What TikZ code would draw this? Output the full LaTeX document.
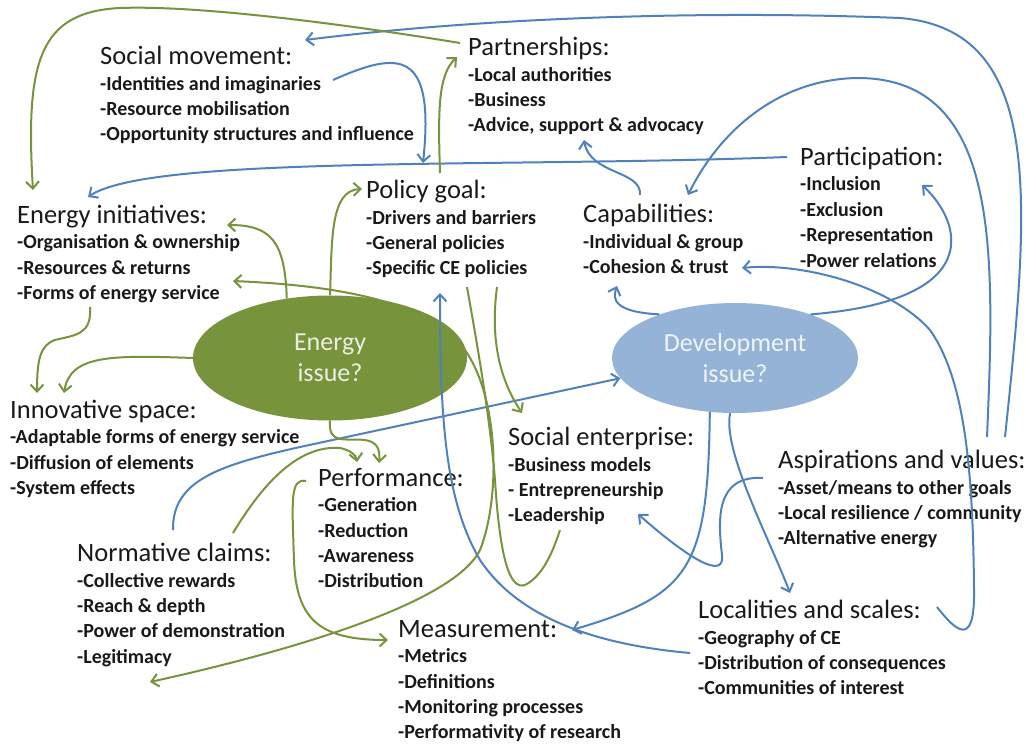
\documentclass[tikz,border=0pt]{standalone}
\usepackage{fontspec}
\setmainfont{Carlito}
\usetikzlibrary{shapes.geometric,arrows.meta,calc}
\definecolor{egreen}{HTML}{77933C}
\definecolor{dblue}{HTML}{95B3D7}
\definecolor{lblue}{HTML}{4F81BD}
\newcommand{\ttl}[1]{{\fontsize{26.5}{25.3}\selectfont\mdseries #1}}

\begin{document}
\begin{tikzpicture}[x=1pt,y=-1pt,
    box/.style={anchor=north west, inner sep=0pt, align=left, text=black!90,
      font=\fontsize{20}{25.4}\selectfont\bfseries},
    issue/.style={ellipse, inner sep=0pt, align=center, font=\fontsize{26}{31}\selectfont},
    gline/.style={draw=egreen, line width=2pt},
    bline/.style={draw=lblue, line width=2pt},
    tip/.style={-{Straight Barb[length=7pt,width=13pt]}},
    tips/.style={{Straight Barb[length=7pt,width=13pt]}-{Straight Barb[length=7pt,width=13pt]}}]
    \useasboundingbox (0,0) rectangle (1035,744);

    % issues
    \node[issue, fill=egreen, text=white!85!egreen, minimum width=274pt, minimum height=125pt] (eiss) at (330,358) {Energy\\issue?};
    \node[issue, fill=dblue, text=white!85!dblue, minimum width=246pt, minimum height=110pt] (diss) at (735,358) {Development\\issue?};

    % themes
    \node[box] (smov) at (100,46) {\ttl{Social movement:}\\-Identities and imaginaries\\-Resource mobilisation\\-Opportunity structures and influence};
    \node[box] (part) at (468,37) {\ttl{Partnerships:}\\-Local authorities\\-Business\\-Advice, support \& advocacy};
    \node[box] (pgoal) at (366,180) {\ttl{Policy goal:}\\-Drivers and barriers\\-General policies\\-Specific CE policies};
    \node[box] (einit) at (17,205) {\ttl{Energy initiatives:}\\-Organisation \& ownership\\-Resources \& returns\\-Forms of energy service};
    \node[box] (capab) at (583,204) {\ttl{Capabilities:}\\-Individual \& group\\-Cohesion \& trust};
    \node[box] (partic) at (800,147) {\ttl{Participation:}\\-Inclusion\\-Exclusion\\-Representation\\-Power relations};
    \node[box] (innov) at (10,400) {\ttl{Innovative space:}\\-Adaptable forms of energy service\\-Diffusion of elements\\-System effects};
    \node[box] (perf) at (318,468) {\ttl{Performance:}\\-Generation\\-Reduction\\-Awareness\\-Distribution};
    \node[box] (senter) at (508,427) {\ttl{Social enterprise:}\\-Business models\\- Entrepreneurship\\-Leadership};
    \node[box] (aspir) at (778,450) {\ttl{Aspirations and values:}\\-Asset/means to other goals\\-Local resilience / community\\-Alternative energy};
    \node[box] (norm) at (77,543) {\ttl{Normative claims:}\\-Collective rewards\\-Reach \& depth\\-Power of demonstration\\-Legitimacy};
    \node[box] (local) at (698,600) {\ttl{Localities and scales:}\\-Geography of CE\\-Distribution of consequences\\-Communities of interest};
    \node[box] (meas) at (398,620) {\ttl{Measurement:}\\-Metrics\\-Definitions\\-Monitoring processes\\-Performativity of research};

    % development links
    \draw[bline, tip] ($(aspir.north west)+(227,-13)$) .. controls (1030,200) and (1045,30) .. (900,18) .. controls (700,10) and (480,18) .. ($(smov.north west)+(205,-6)$);
    \draw[bline, tip] ($(aspir.north west)+(209,-13)$) .. controls (995,250) and (1000,80) .. (860,78) .. controls (780,78) and (720,130) .. ($(capab.north west)+(105,-9)$);
    \draw[bline, tip] ($(partic.north west)+(-13,10)$) .. controls (500,168) and (150,155) .. ($(einit.north west)+(71,-8)$);
    \draw[bline, tip] ($(smov.north west)+(233,34)$) .. controls (400,50) and (435,50) .. ($(pgoal.north west)+(57,-17)$);
    \draw[bline, tip] ($(capab.north west)+(57,-9)$) .. controls (642,170) and (590,175) .. ($(part.north west)+(116,103)$);
    \draw[bline, tip] (diss.150) .. controls (615,312) and (612,300) .. ($(capab.north west)+(34,82)$);
    \draw[bline, tip] (diss.30) .. controls (990,300) and (960,220) .. ($(partic.north west)+(122,38)$);
    \draw[bline, tip] ($(local.north west)+(239,7)$) .. controls (955,630) and (975,650) .. (974,590) .. controls (973,470) and (965,380) .. (930,330) .. controls (890,285) and (800,262) .. ($(capab.north west)+(159,64)$);
    \draw[bline, tip] ($(norm.north west)+(96,-13)$) .. controls (172,480) and (220,465) .. (300,447) -- (diss.190);
    \draw[bline, tip] (diss.245) .. controls (708,570) and (690,595) .. ($(meas.north west)+(174,10)$);
    \draw[bline, tip] (diss.265) .. controls (722,450) and (770,540) .. ($(local.north west)+(92,-7)$);
    \draw[bline, tip] ($(aspir.north west)+(-15,28)$) .. controls (715,475) and (718,520) .. (722,555) .. controls (725,580) and (690,560) .. ($(senter.north west)+(130,87)$);
    \draw[bline, tip] ($(local.north west)+(-8,53)$) .. controls (600,645) and (520,620) .. (480,560) .. controls (445,500) and (440,420) .. ($(pgoal.north west)+(74,113)$);

    % energy links
    \draw[gline, tip] ($(part.north west)+(-8,6)$) .. controls (350,25) and (200,5) .. (120,8) .. controls (40,12) and (25,60) .. ($(einit.north west)+(16,-15)$);
    \draw[gline, tip] ($(pgoal.north west)+(74,-7)$) .. controls (438,110) and (438,75) .. ($(part.north west)+(-11,20)$);
    \draw[gline, tip] (eiss.north) .. controls (332,240) and (330,190) .. ($(pgoal.north west)+(-4,9)$);
    \draw[gline, tip] (eiss.126) .. controls (285,240) and (270,225) .. ($(einit.north west)+(210,20)$);
    \draw[gline, tips] ($(einit.north west)+(216,76)$) .. controls (330,285) and (430,300) .. (465,350) .. controls (500,400) and (500,500) .. (480,550) .. controls (450,610) and (250,660) .. ($(norm.north west)+(73,139)$);
    \draw[gline] ($(pgoal.north west)+(101,107)$) .. controls (480,360) and (490,420) .. (495,480) .. controls (500,560) and (510,590) .. (525,585) .. controls (545,575) and (555,545) .. ($(senter.north west)+(52,103)$);
    \draw[gline, tip] ($(pgoal.north west)+(131,107)$) .. controls (490,340) and (500,380) .. ($(senter.north west)+(14,-14)$);
    \draw[gline, tip] (eiss.south) .. controls (328,445) and (345,438) .. (365,440) .. controls (378,442) and (380,450) .. ($(perf.north west)+(61,-5)$);
    \draw[gline, tip] ($(norm.north west)+(156,-10)$) .. controls (265,480) and (300,445) .. (340,448) .. controls (350,450) and (356,455) .. ($(perf.north west)+(39,-6)$);
    \draw[gline, tip] ($(perf.north west)+(-12,13)$) .. controls (290,478) and (292,500) .. (294,560) .. controls (296,620) and (320,640) .. ($(meas.north west)+(-10,20)$);
    \draw[gline, tip] (eiss.west) .. controls (110,355) and (70,355) .. ($(innov.north west)+(54,-7)$);
    \draw[gline, tip] ($(einit.north west)+(73,102)$) .. controls (92,335) and (75,335) .. (55,340) .. controls (40,345) and (37,360) .. ($(innov.north west)+(27,-7)$);
\end{tikzpicture}
\end{document}
